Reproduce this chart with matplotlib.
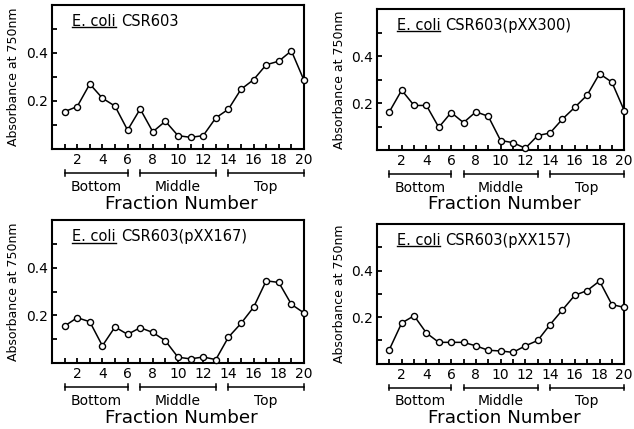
import numpy as np
import matplotlib
matplotlib.use("Agg")
import matplotlib.pyplot as plt
import matplotlib.transforms as mtransforms

plt.rcParams['font.family'] = ['DejaVu Sans']

# fraction numbers 1..20 (bottom -> top of the gradient)
fractions = list(range(1, 21))

# absorbance at 750 nm
abs_csr603 = [0.155, 0.176, 0.270, 0.211, 0.178, 0.078, 0.166, 0.071, 0.115, 0.055,
              0.048, 0.055, 0.129, 0.165, 0.248, 0.288, 0.350, 0.365, 0.408, 0.285]
abs_pxx300 = [0.163, 0.255, 0.190, 0.190, 0.097, 0.160, 0.117, 0.163, 0.144, 0.041,
              0.032, 0.008, 0.062, 0.073, 0.132, 0.182, 0.234, 0.325, 0.289, 0.168]
abs_pxx167 = [0.155, 0.190, 0.173, 0.072, 0.151, 0.120, 0.148, 0.128, 0.093, 0.024,
              0.017, 0.025, 0.014, 0.108, 0.166, 0.234, 0.345, 0.338, 0.246, 0.210]
abs_pxx157 = [0.061, 0.175, 0.206, 0.132, 0.092, 0.092, 0.092, 0.077, 0.058, 0.055,
              0.049, 0.077, 0.100, 0.168, 0.231, 0.294, 0.314, 0.355, 0.254, 0.242]

strains = ["CSR603", "CSR603(pXX300)", "CSR603(pXX167)", "CSR603(pXX157)"]
series = [abs_csr603, abs_pxx300, abs_pxx167, abs_pxx157]

# gradient regions: (label, first fraction, last fraction)
regions = [("Bottom", 1, 6), ("Middle", 7, 13), ("Top", 14, 20)]

# axes boxes in figure fractions [left, bottom, width, height]
boxes = [[0.082, 0.653, 0.3975, 0.336],
         [0.5946, 0.650, 0.390, 0.329],
         [0.082, 0.154, 0.3975, 0.333],
         [0.5946, 0.152, 0.390, 0.326]]

fig = plt.figure(figsize=(6.34, 4.29), dpi=100)
species_labels = []

for box, strain, vals in zip(boxes, strains, series):
    ax = fig.add_axes(box)
    ax.plot(fractions, vals, "k-", lw=1.1, marker="o", ms=4.4, mfc="white",
            mec="black", mew=1.0, clip_on=False, zorder=3)
    ax.set_xlim(0, 20)
    ax.set_ylim(0, 0.6)

    # ticks: every fraction, labels on even ones
    ax.set_xticks(fractions)
    ax.set_xticklabels([str(f) if f % 2 == 0 else "" for f in fractions])
    ax.set_yticks([0.1, 0.2, 0.3, 0.4, 0.5])
    ax.set_yticklabels(["", "0.2", "", "0.4", ""])
    ax.tick_params(direction="in", length=3.5, width=1.3, labelsize=10, pad=3)
    for s in ax.spines.values():
        s.set_linewidth(1.5)

    ax.set_ylabel("Absorbance at 750nm", fontsize=9)
    ax.yaxis.set_label_coords(-0.125, 0.5)

    t = ax.text(0.08, 0.885, "E. coli", transform=ax.transAxes,
                fontsize=10.5, ha="left", va="center")
    species_labels.append((ax, t, strain))

    # region brackets under the axis
    trans = mtransforms.blended_transform_factory(ax.transData, ax.transAxes)
    for name, a, b in regions:
        ax.plot([a, b], [-0.17, -0.17], "k-", lw=1.1, transform=trans, clip_on=False)
        for e in (a, b):
            ax.plot([e, e], [-0.19, -0.15], "k-", lw=1.1, transform=trans, clip_on=False)
        ax.text((a + b) / 2, -0.265, name, transform=trans, fontsize=10,
                ha="center", va="center")

    ax.text(0.515, -0.385, "Fraction Number", transform=ax.transAxes, fontsize=13.2,
            ha="center", va="center")

# underline "E. coli" and put the strain name after it
fig.canvas.draw()
renderer = fig.canvas.get_renderer()
for ax, t, strain in species_labels:
    bb = t.get_window_extent(renderer).transformed(ax.transAxes.inverted())
    ax.plot([bb.x0, bb.x1], [bb.y0 + 0.01, bb.y0 + 0.01], "k-", lw=1.0,
            transform=ax.transAxes, clip_on=False)
    ax.text(bb.x1 + 0.02, 0.885, strain, transform=ax.transAxes,
            fontsize=10.5, ha="left", va="center")

fig.savefig("out.png", dpi=100)
